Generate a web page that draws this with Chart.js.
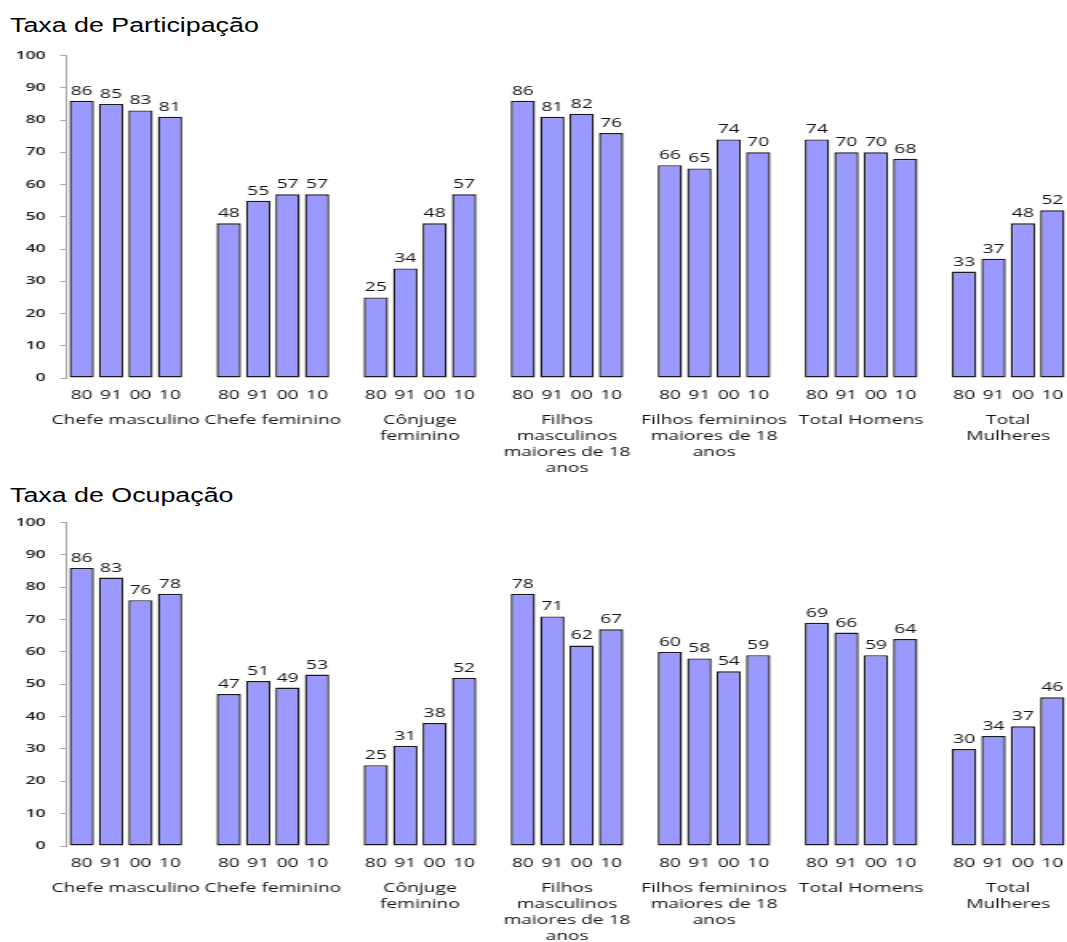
<!DOCTYPE html>
<html lang="pt">
<head>
<meta charset="utf-8">
<title>Taxa de Participação e Taxa de Ocupação</title>
<script src="https://cdn.jsdelivr.net/npm/chart.js@4/dist/chart.umd.min.js"></script>
<style>
  html, body { margin: 0; padding: 0; background: #ffffff; }
  body { position: relative; width: 1067px; height: 942px; overflow: hidden; }
  .titulo {
    position: absolute; left: 10px; margin: 0;
    font-family: 'Liberation Sans', Arial, sans-serif; font-size: 20px; line-height: 20px;
    font-weight: normal; color: #000;
    transform: scaleX(1.34); transform-origin: left top; white-space: nowrap;
  }
  .painel { position: absolute; left: 0; }
  .painel canvas { display: block; }
</style>
</head>
<body>
<h1 class="titulo" style="top:15px">Taxa de Participação</h1>
<div class="painel" style="top:40px"><canvas id="graficoParticipacao" width="667" height="440" style="width:1067px;height:440px"></canvas></div>
<h1 class="titulo" style="top:485px">Taxa de Ocupação</h1>
<div class="painel" style="top:507px"><canvas id="graficoOcupacao" width="667" height="435" style="width:1067px;height:435px"></canvas></div>

<script>
// Anos censitários de cada grupo
const anos = ['80', '91', '00', '10'];

// Grupos populacionais (rótulos em várias linhas)
const grupos = [
  ['Chefe masculino'],
  ['Chefe feminino'],
  ['Cônjuge', 'feminino'],
  ['Filhos', 'masculinos', 'maiores de 18', 'anos'],
  ['Filhos femininos', 'maiores de 18', 'anos'],
  ['Total Homens'],
  ['Total', 'Mulheres']
];

// Taxa de Participação (%)
const partChefeMasculino   = [86, 85, 83, 81];
const partChefeFeminino    = [48, 55, 57, 57];
const partConjugeFeminino  = [25, 34, 48, 57];
const partFilhosMasculinos = [86, 81, 82, 76];
const partFilhosFemininos  = [66, 65, 74, 70];
const partTotalHomens      = [74, 70, 70, 68];
const partTotalMulheres    = [33, 37, 48, 52];

// Taxa de Ocupação (%)
const ocupChefeMasculino   = [86, 83, 76, 78];
const ocupChefeFeminino    = [47, 51, 49, 53];
const ocupConjugeFeminino  = [25, 31, 38, 52];
const ocupFilhosMasculinos = [78, 71, 62, 67];
const ocupFilhosFemininos  = [60, 58, 54, 59];
const ocupTotalHomens      = [69, 66, 59, 64];
const ocupTotalMulheres    = [30, 34, 37, 46];

// Escala do eixo Y
const yMin = 0, yMax = 100, yPasso = 10;

const participacao = [partChefeMasculino, partChefeFeminino, partConjugeFeminino,
  partFilhosMasculinos, partFilhosFemininos, partTotalHomens, partTotalMulheres];
const ocupacao = [ocupChefeMasculino, ocupChefeFeminino, ocupConjugeFeminino,
  ocupFilhosMasculinos, ocupFilhosFemininos, ocupTotalHomens, ocupTotalMulheres];

// Cada grupo ocupa 4 posições de barra, com uma posição vazia entre grupos
const porGrupo = anos.length + 1;
function rotulosPosicoes() {
  const r = [];
  grupos.forEach((g, i) => {
    anos.forEach(a => r.push(a));
    if (i < grupos.length - 1) r.push('');
  });
  return r;
}
function valoresPosicoes(series) {
  const v = [];
  series.forEach((s, i) => {
    s.forEach(x => v.push(x));
    if (i < series.length - 1) v.push(null);
  });
  return v;
}

const posicoes = rotulosPosicoes();
const escalaX = 1067 / 667;  // o desenho é esticado na horizontal

Chart.defaults.font.family = "'Open Sans', 'DejaVu Sans', sans-serif";
Chart.defaults.color = '#111';

// Valor escrito acima de cada barra
const rotulosValores = {
  id: 'rotulosValores',
  afterDatasetsDraw(chart) {
    const ctx = chart.ctx;
    const meta = chart.getDatasetMeta(0);
    const dados = chart.data.datasets[0].data;
    ctx.save();
    ctx.font = "12px 'Open Sans', sans-serif";
    ctx.fillStyle = '#111';
    ctx.textAlign = 'center';
    ctx.textBaseline = 'alphabetic';
    meta.data.forEach((barra, i) => {
      const v = dados[i];
      if (v === null || v === undefined) return;
      ctx.fillText(String(v), barra.x, barra.y - 6);
    });
    ctx.restore();
  }
};

// Eixos horizontais sem margem lateral extra: a área do gráfico vai até a borda
function semMargemLateral(scale, altura) {
  scale.height = altura;
  scale.paddingLeft = 0;
  scale.paddingRight = 0;
}

function criarGrafico(id, series, alturaGrupos) {
  const n = posicoes.length;
  return new Chart(document.getElementById(id), {
    type: 'bar',
    data: {
      labels: posicoes,
      datasets: [{
        data: valoresPosicoes(series),
        backgroundColor: '#9999ff',
        borderColor: '#1a1a1a',
        borderWidth: 1.4,
        borderSkipped: false,
        barPercentage: 0.83,
        categoryPercentage: 1.0
      }]
    },
    options: {
      responsive: false,
      animation: false,
      devicePixelRatio: 1,
      layout: { padding: { top: 10, right: 0, bottom: 0, left: 0 } },
      plugins: { legend: { display: false }, tooltip: { enabled: false }, title: { display: false } },
      scales: {
        x: {
          type: 'category',
          position: 'bottom',
          weight: 1,
          offset: true,
          grid: { display: false, drawTicks: false, tickLength: 0 },
          border: { display: false },
          ticks: {
            autoSkip: false, maxRotation: 0, minRotation: 0, padding: 10,
            font: { size: 12, lineHeight: 1.2 }, color: '#111'
          },
          afterFit(scale) { semMargemLateral(scale, 28); }
        },
        xg: {
          type: 'linear',
          position: 'bottom',
          weight: 2,
          offset: false,
          bounds: 'data',
          min: -0.5,
          max: n - 0.5,
          grid: { display: false, drawTicks: false, tickLength: 0, offset: false },
          border: { display: false },
          afterBuildTicks(scale) {
            scale.ticks = grupos.map((g, i) => ({ value: i * porGrupo + (anos.length - 1) / 2 }));
          },
          ticks: {
            autoSkip: false, maxRotation: 0, minRotation: 0, padding: 7,
            font: { size: 12, lineHeight: '16px' }, color: '#111',
            callback: (valor, indice) => grupos[indice]
          },
          afterFit(scale) { semMargemLateral(scale, alturaGrupos); }
        },
        y: {
          min: yMin,
          max: yMax,
          position: 'left',
          grid: { drawOnChartArea: false, drawTicks: true, tickLength: 7 / escalaX, color: '#a6a6a6', lineWidth: 1 },
          border: { display: true, color: '#a6a6a6', width: 1 },
          ticks: {
            stepSize: yPasso, padding: 9,
            font: { size: 11, weight: '600' }, color: '#1a1a1a'
          },
          afterFit(scale) { scale.width = 67 / escalaX; }
        }
      }
    },
    plugins: [rotulosValores]
  });
}

criarGrafico('graficoParticipacao', participacao, 74);
criarGrafico('graficoOcupacao', ocupacao, 68);
</script>
</body>
</html>
